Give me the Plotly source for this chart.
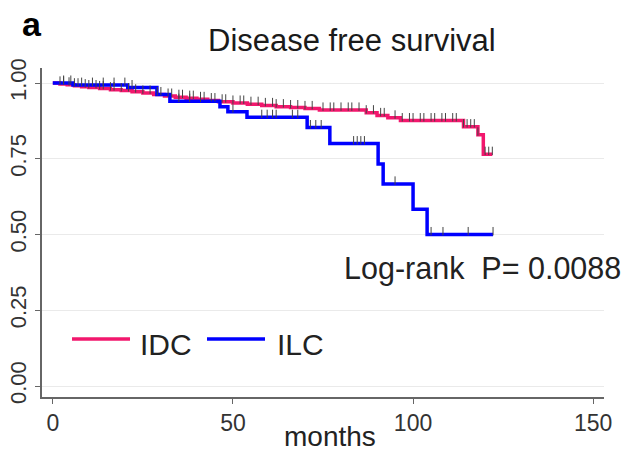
import numpy as np
import plotly.graph_objects as go

# Kaplan-Meier step data (months, survival)
idc_t = [0, 2, 4, 6, 8, 10, 13, 16, 19, 22, 25, 28, 31, 34, 37, 40, 43, 46, 50, 54,
         58, 62, 66, 70, 74, 87, 90, 93, 96.5, 114, 118, 119.5, 122]
idc_s = [1.0, .997, .994, .991, .988, .985, .982, .978, .975, .971, .967, .962, .957,
         .953, .950, .946, .942, .938, .934, .930, .926, .922, .919, .916, .911, .902,
         .893, .885, .876, .856, .829, .765, .765]

ilc_t = [0, 5.6, 20.8, 28.9, 32.5, 46.4, 48.6, 53.9, 70.6, 76.9, 90.3, 91.7, 100, 103.9, 122.2]
ilc_s = [1.0, .993, .985, .962, .940, .922, .905, .887, .853, .800, .733, .667, .583, .500, .500]

# censoring times
idc_cens = [2, 3, 4.5, 6, 7, 9, 10, 12, 13, 14, 16, 17, 19, 21, 23, 25, 27, 29, 30, 32, 33,
            35, 36, 38, 39, 41, 42, 44, 45, 47, 48, 50, 52, 53, 55, 57, 59, 61, 62, 64, 66,
            68, 70, 72, 75, 77, 78, 80, 82, 83, 85, 87, 89, 91, 92, 95, 97, 99, 100, 102,
            103, 105, 106, 108, 109, 111, 112, 114, 115, 116, 117, 118, 120, 121, 122]
ilc_cens = [3, 5, 8, 11, 14, 17, 20, 22, 35, 38, 41, 50, 58, 59.5, 61, 62, 66.5, 68, 71.5,
            73, 74.5, 83.5, 84.5, 85.5, 86.5, 95, 105, 108.3, 115.3, 122.2]

y_ticks = [0, 0.25, 0.5, 0.75, 1.0]
y_ticktext = ["0.00", "0.25", "0.50", "0.75", "1.00"]
x_ticks = [0, 50, 100, 150]

IDC_COLOR = "#F2176D"
ILC_COLOR = "#0000FF"
FONT = "Liberation Sans, Arial, sans-serif"


def surv_at(times, steps_t, steps_s):
    idx = np.searchsorted(np.array(steps_t), np.array(times), side="right") - 1
    return np.array(steps_s)[idx]


fig = go.Figure()
fig.add_trace(go.Scatter(x=idc_t, y=idc_s, mode="lines", line=dict(color=IDC_COLOR, width=3.5, shape="hv"),
                         name="IDC", showlegend=False))
fig.add_trace(go.Scatter(x=ilc_t, y=ilc_s, mode="lines", line=dict(color=ILC_COLOR, width=3.5, shape="hv"),
                         name="ILC", showlegend=False))
for cens, st, ss in [(idc_cens, idc_t, idc_s), (ilc_cens, ilc_t, ilc_s)]:
    fig.add_trace(go.Scatter(
        x=cens, y=surv_at(cens, st, ss) + 0.011, mode="markers",
        marker=dict(symbol="line-ns", size=6, line=dict(color="#444444", width=1)),
        showlegend=False, hoverinfo="skip"))

axis_col = "#666666"
fig.update_layout(
    width=626, height=459,
    margin=dict(l=42, r=22, t=68, b=62),
    paper_bgcolor="white", plot_bgcolor="white",
    font=dict(family=FONT, color="#333333"),
    xaxis=dict(range=[-3, 153], tickvals=x_ticks, showgrid=False, zeroline=False, automargin=False,
               showline=True, linecolor=axis_col, linewidth=1.5,
               ticks="outside", ticklen=5, tickcolor=axis_col, tickwidth=1,
               tickfont=dict(size=23, color="#333333")),
    yaxis=dict(range=[-0.0363, 1.0495], tickvals=y_ticks, ticktext=y_ticktext, automargin=False,
               tickangle=-90, showgrid=True, gridcolor="#EAEAEA", gridwidth=1,
               zeroline=False, showline=True, linecolor=axis_col, linewidth=1.5,
               ticks="outside", ticklen=5, tickcolor=axis_col, tickwidth=1,
               tickfont=dict(size=22, color="#333333")),
)

# texts
fig.add_annotation(text="Disease free survival", xref="paper", yref="paper", x=0.5516, y=1.085,
                   showarrow=False, font=dict(size=31, color="#1a1a1a"), xanchor="center", yanchor="middle")
fig.add_annotation(text="<b>a</b>", xref="paper", yref="paper", x=-0.018, y=1.134,
                   showarrow=False, font=dict(size=34, color="#000000"), xanchor="center", yanchor="middle")
fig.add_annotation(text="months", xref="paper", yref="paper", x=0.5125, y=-0.12,
                   showarrow=False, font=dict(size=28, color="#222222"), xanchor="center", yanchor="middle")
fig.add_annotation(text="Log-rank  P= 0.0088", xref="x", yref="y", x=80.3, y=0.389,
                   showarrow=False, font=dict(size=30.5, color="#222222"), xanchor="left", yanchor="middle")

# legend (manual)
leg_y = 0.1763
for x0, x1, col, lab, tx in [(0.0534, 0.1566, IDC_COLOR, "IDC", 0.1708),
                             (0.2936, 0.3968, ILC_COLOR, "ILC", 0.4146)]:
    fig.add_shape(type="line", xref="paper", yref="paper", x0=x0, x1=x1, y0=leg_y, y1=leg_y,
                  line=dict(color=col, width=3.5))
    fig.add_annotation(text=lab, xref="paper", yref="paper", x=tx, y=0.16, showarrow=False,
                       font=dict(size=30, color="#222222"), xanchor="left", yanchor="middle")

fig.write_html("out.html")
